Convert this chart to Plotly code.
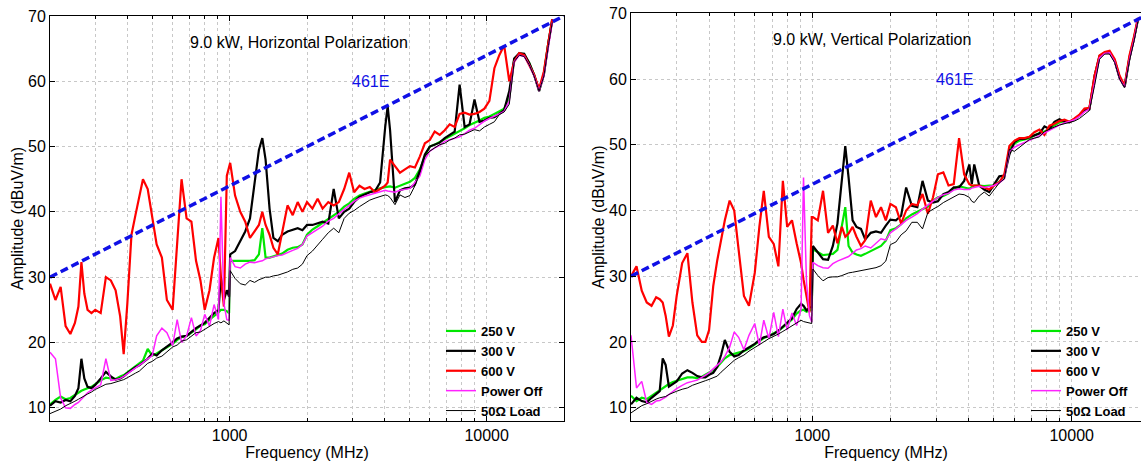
import math
import plotly.graph_objects as go

# Sweep frequencies (MHz): 200 MHz - 1 GHz band, then 1 - 18 GHz band
FREQ_MHZ = [
    200, 210, 220, 230, 240, 250, 258, 265, 272, 280,
    290, 300, 315, 330, 345, 360, 375, 387, 400, 415,
    430, 445, 460, 480, 500, 520, 545, 570, 600, 625,
    650, 680, 710, 740, 770, 800, 835, 870, 905, 925,
    950, 975, 995,
    1005, 1050, 1100, 1150, 1200, 1250, 1300, 1340, 1380, 1430,
    1480, 1540, 1600, 1680, 1760, 1840, 1920, 2000, 2100, 2200,
    2300, 2420, 2540, 2660, 2790, 2920, 3050, 3200, 3350, 3510,
    3680, 3850, 4030, 4120, 4210, 4400, 4600, 4810, 5030, 5260,
    5500, 5750, 6010, 6280, 6570, 6870, 7180, 7510, 7850, 8210,
    8580, 8970, 9380, 9800, 10250, 10720, 11200, 11700, 12250, 12800,
    13400, 14000, 14650, 15300, 16000, 16700, 17400, 18000,
]

# Horizontal polarization (dBuV/m)
H_250V = [
    10.5, 11.2, 11.7, 11.3, 11.5, 12.0, 12.3, 12.6, 12.8, 13.0,
    13.2, 13.6, 14.2, 14.6, 14.5, 14.4, 14.8, 15.0, 15.4, 15.9,
    16.4, 16.8, 17.2, 19.0, 18.0, 18.3, 18.8, 19.2, 19.8, 20.4,
    20.8, 21.0, 21.5, 22.0, 22.6, 22.8, 23.5, 24.0, 24.6, 25.0,
    25.0, 24.8, 24.5,
    32.5, 32.5, 32.4, 32.4, 32.5, 32.6, 33.5, 37.5, 33.0, 33.0,
    33.2, 33.4, 33.6, 34.2, 34.5, 34.6, 35.0, 36.5, 37.3, 37.8,
    38.3, 39.0, 39.5, 40.0, 40.8, 41.3, 42.0, 42.5, 42.8, 43.1,
    43.4, 43.6, 43.8, 43.9, 43.9, 43.7, 44.0, 44.3, 44.6, 45.2,
    46.5, 48.5, 50.0, 50.3, 50.7, 51.2, 51.6, 52.0, 52.4, 52.8,
    53.3, 53.6, 54.0, 54.4, 54.6, 55.0, 55.4, 55.8, 57.5, 63.3,
    64.2, 64.0, 62.8, 61.0, 58.6, 61.2, 66.0, 69.3,
]
H_300V = [
    10.3, 11.0, 10.8, 11.2, 11.0, 11.8, 13.0, 17.5, 14.5, 13.2,
    13.0, 13.5, 14.5, 15.5, 14.8, 14.3, 14.5, 14.8, 15.3, 15.8,
    16.2, 16.5, 17.0, 17.5, 18.3, 18.0, 18.8, 19.3, 20.0, 20.6,
    20.9, 21.0, 21.6, 22.2, 22.6, 23.0, 23.8, 24.5, 25.0, 30.0,
    26.5, 28.0, 27.0,
    33.5, 34.0, 35.5, 37.0, 39.0, 44.0, 49.5, 51.3, 48.0, 40.5,
    36.0, 35.5, 36.5, 37.0, 37.2, 37.5, 37.2, 38.0, 38.0, 38.3,
    38.5, 38.2, 43.5, 39.0, 40.0, 40.5, 41.5, 42.3, 42.7, 43.0,
    43.2, 44.5, 53.0, 56.2, 52.5, 41.5, 43.3, 43.6, 43.7, 44.2,
    46.3, 48.8, 50.0, 50.3, 50.6, 51.3, 51.8, 52.3, 59.5, 53.0,
    53.4, 57.2, 53.8, 54.0, 54.4, 54.5, 55.0, 55.6, 58.5, 63.5,
    64.3, 64.2, 62.8, 61.0, 58.5, 61.0, 66.0, 69.5,
]
H_600V = [
    29.0, 26.5, 28.5, 22.5, 21.3, 23.0, 25.5, 32.3, 27.5, 25.0,
    24.5, 25.0, 24.5, 30.0, 29.5, 28.0, 24.0, 18.2, 26.0, 36.5,
    39.5, 42.5, 45.0, 43.5, 39.5, 35.0, 33.0, 26.5, 25.0, 35.0,
    45.0, 39.0, 38.5, 32.5, 29.5, 25.0, 28.0, 33.0, 36.0, 30.0,
    25.5, 45.5, 47.0,
    47.5, 42.5, 40.0, 38.5, 36.0, 37.0, 38.0, 40.0, 38.0, 36.5,
    34.5, 33.5, 37.0, 41.0, 39.5, 41.5, 40.0, 41.5, 40.5, 42.0,
    40.5, 41.5, 41.0, 41.5, 43.5, 46.0, 43.0, 44.0, 43.5, 43.8,
    43.0, 43.5, 44.0, 44.5, 48.0, 47.0, 46.0, 46.5, 47.0, 46.8,
    48.5, 50.5, 51.0, 52.3, 51.8, 52.5, 53.4, 53.0, 55.0, 55.2,
    54.9, 55.0, 55.3, 55.8, 57.0, 62.0, 64.0, 65.5, 60.0, 63.0,
    64.3, 64.0, 62.5, 61.0, 58.8, 61.5, 66.0, 69.5,
]
H_POWER_OFF = [
    18.5, 17.5, 11.5, 10.0, 9.9, 10.5, 10.8, 11.3, 11.8, 12.3,
    12.7, 13.0, 13.5, 17.5, 14.2, 14.3, 14.5, 14.8, 15.2, 15.6,
    16.0, 16.4, 16.9, 17.5, 18.0, 21.0, 22.2, 21.5, 19.5, 23.5,
    20.0, 21.0, 23.8, 21.0, 21.8, 24.3, 22.5, 25.8, 23.5, 42.3,
    26.0, 23.5, 23.4,
    33.0, 31.6, 31.4, 32.0, 32.3, 32.2, 32.4, 32.5, 32.8, 33.0,
    33.1, 33.3, 33.4, 33.8, 34.1, 34.4, 35.0, 36.3, 36.8, 37.3,
    37.8, 38.6, 39.0, 39.7, 40.3, 41.0, 41.6, 42.1, 42.4, 42.6,
    42.8, 43.1, 43.3, 43.2, 43.1, 43.0, 43.3, 43.5, 43.6, 44.5,
    45.5, 48.0, 49.3, 49.8, 50.2, 50.8, 51.0, 51.2, 51.5, 52.0,
    52.5, 52.8, 53.4, 53.9, 54.3, 54.6, 55.0, 55.4, 57.0, 63.0,
    64.0, 63.8, 62.5, 60.8, 58.5, 60.8, 65.5, 69.0,
]
H_50_LOAD = [
    9.1, 9.4, 9.8, 10.3, 10.6, 11.0, 11.3, 11.6, 11.8, 12.1,
    12.4, 12.8, 13.2, 13.6, 13.7, 13.9, 14.1, 14.3, 14.6, 15.0,
    15.3, 15.6, 16.1, 16.8, 17.1, 17.6, 17.9, 18.5, 19.3, 19.6,
    20.2, 20.4, 20.9, 21.5, 21.6, 22.0, 22.5, 22.9, 23.2, 23.0,
    23.3, 23.0, 22.7,
    31.0, 29.8, 29.0, 28.8, 29.5, 29.2, 29.6, 29.8, 30.0, 30.0,
    30.2, 30.3, 30.5, 30.8, 31.2, 31.4, 32.0, 33.3, 34.0, 35.0,
    35.8, 36.8, 37.5, 36.8, 39.0, 39.8, 40.2, 40.8, 41.3, 41.8,
    42.1, 42.3, 42.6, 42.5, 42.2, 41.1, 42.6, 42.2, 42.5, 44.0,
    46.0, 48.5, 49.3, 49.8, 50.3, 50.5, 51.0, 51.3, 51.8, 51.9,
    52.2, 52.6, 52.4, 53.0, 53.4, 53.8, 54.9, 55.3, 56.5, 63.0,
    64.0, 63.8, 62.5, 60.8, 58.5, 60.8, 65.5, 69.0,
]

# Vertical polarization (dBuV/m)
V_250V = [
    11.8, 11.0, 11.5, 11.3, 11.8, 12.3, 12.6, 13.0, 13.3, 13.6,
    13.9, 14.1, 14.4, 14.6, 14.6, 14.5, 14.7, 15.0, 15.4, 15.7,
    16.2, 16.8, 17.5, 18.0, 18.2, 18.3, 18.6, 19.0, 19.6, 20.2,
    20.6, 20.9, 21.3, 21.7, 22.2, 22.8, 23.4, 24.3, 24.8, 24.9,
    24.6, 24.8, 24.9,
    34.1, 33.6, 33.2, 33.3, 33.4, 34.0, 37.5, 40.5, 34.6, 33.6,
    33.3, 33.1, 33.4, 33.8, 34.2, 34.6, 35.4, 37.0, 37.3, 37.9,
    38.8, 39.4, 39.8, 40.2, 40.6, 41.5, 42.0, 42.2, 42.6, 43.3,
    43.7, 43.5, 43.3, 43.6, 43.8, 43.8, 43.7, 43.8, 43.8, 44.4,
    45.0, 49.3, 50.2, 50.6, 50.8, 51.0, 51.4, 51.8, 52.0, 52.5,
    53.0, 53.4, 53.6, 53.5, 53.9, 54.4, 55.2, 55.5, 60.0, 63.4,
    64.0, 64.1, 62.8, 60.2, 58.9, 63.3, 66.3, 69.1,
]
V_300V = [
    10.5, 11.5, 11.0, 10.8, 11.5, 12.0, 12.5, 17.5, 16.5, 13.2,
    13.6, 14.0, 15.2, 15.7, 15.3, 14.8, 14.6, 14.6, 15.0, 15.3,
    16.2, 18.0, 20.3, 18.5, 17.8, 18.0, 18.7, 19.2, 19.7, 20.3,
    20.7, 20.9, 21.2, 21.7, 22.3, 23.0, 23.6, 25.0, 25.8, 25.5,
    24.8, 25.2, 25.3,
    34.6, 33.6, 32.6, 32.5, 34.6, 38.0, 44.5, 49.8, 45.0, 38.5,
    37.5, 37.2, 35.6, 36.6, 36.8, 36.6, 37.7, 38.6, 38.5, 39.2,
    43.5, 40.7, 40.5, 44.5, 41.5, 41.2, 41.4, 42.5, 42.8, 43.5,
    43.5, 44.5, 47.0, 44.0, 47.0, 43.8, 43.2, 42.8, 44.0, 45.2,
    45.3, 48.5, 50.4, 50.9, 50.9, 51.2, 51.4, 51.7, 52.8, 52.4,
    53.5, 53.9, 53.5, 53.4, 53.9, 54.5, 55.3, 55.4, 60.5, 63.5,
    64.0, 64.0, 62.8, 60.2, 58.8, 63.2, 66.2, 69.0,
]
V_600V = [
    30.0, 31.5, 27.8, 26.0, 25.5, 26.8, 26.5, 26.0, 24.0, 20.8,
    22.5, 27.0, 32.0, 33.5, 26.0, 21.0, 20.0, 20.0, 21.8, 28.5,
    32.4, 35.5, 38.5, 41.5, 40.0, 34.0, 27.0, 25.5, 30.5, 37.5,
    43.0, 36.0, 34.9, 31.5, 44.5, 37.5, 38.5, 35.0, 32.0, 29.5,
    27.0, 24.5, 39.0,
    39.0, 38.5, 43.0, 36.6, 37.7, 35.0, 37.5, 36.0, 36.5, 37.5,
    36.0, 34.6, 35.5, 41.5, 39.0, 40.5, 38.5, 41.0, 40.5, 38.0,
    40.0, 41.0, 40.8, 42.5, 39.5, 42.0, 45.5, 45.8, 43.8, 44.0,
    51.0, 45.5, 44.0, 43.8, 43.8, 43.8, 43.5, 43.2, 43.8, 44.3,
    45.5, 49.8, 50.6, 51.0, 51.0, 51.2, 51.9, 52.3, 51.5, 52.9,
    53.2, 53.6, 53.8, 53.5, 54.0, 54.6, 55.5, 55.6, 60.5, 63.6,
    64.1, 64.3, 63.0, 60.5, 59.0, 63.6, 66.5, 69.3,
]
V_POWER_OFF = [
    21.0, 13.0, 14.0, 10.8, 10.5, 11.0, 11.1, 11.3, 11.6, 12.0,
    12.5, 12.9, 13.4, 13.8, 14.0, 14.2, 14.6, 14.9, 15.3, 15.9,
    16.5, 17.0, 17.8, 19.2, 21.5, 20.7, 18.8, 21.0, 22.8, 19.5,
    23.3, 20.5, 24.5, 20.8, 25.0, 21.8, 24.4, 22.5, 25.0, 45.0,
    29.0, 24.0, 23.0,
    32.1, 31.6, 31.3, 31.2, 31.9, 32.3, 32.6, 32.8, 33.0, 33.5,
    34.0, 34.2, 34.6, 34.3, 35.0, 35.7, 35.5, 36.6, 37.2, 37.8,
    38.5, 39.0, 39.5, 40.2, 40.8, 41.5, 42.0, 42.4, 42.6, 43.1,
    43.3, 43.2, 43.2, 43.4, 43.5, 43.7, 43.5, 43.6, 43.8, 44.2,
    44.8, 49.0, 49.6, 50.0, 50.3, 50.6, 51.0, 51.4, 51.8, 52.2,
    52.7, 53.0, 53.3, 53.5, 53.8, 54.3, 55.0, 55.4, 59.5, 63.2,
    63.9, 64.0, 62.6, 60.0, 58.8, 63.0, 66.0, 69.0,
]
V_50_LOAD = [
    9.2, 9.8, 10.3, 10.6, 11.0, 11.3, 11.5, 11.6, 11.7, 12.0,
    12.3, 12.5, 12.8, 13.0, 13.4, 13.7, 13.9, 14.1, 14.3, 14.5,
    14.8, 15.4, 15.9, 16.5, 17.2, 17.6, 18.0, 18.6, 19.2, 19.6,
    20.0, 20.5, 20.8, 21.2, 21.6, 22.0, 22.5, 22.9, 23.3, 23.1,
    23.0, 22.9, 22.8,
    31.1, 30.1, 29.3, 29.8, 29.9, 29.9, 30.1, 30.3, 30.5, 30.6,
    30.7, 30.8, 31.0, 31.1, 31.3, 31.6, 32.3, 34.8, 35.2, 36.3,
    36.9, 38.2, 38.2, 37.2, 39.7, 40.2, 40.6, 41.2, 41.6, 42.0,
    42.5, 42.4, 42.0, 41.4, 41.2, 42.2, 42.8, 42.2, 43.2, 44.2,
    44.8, 49.3, 49.0, 49.6, 50.2, 50.8, 51.0, 51.2, 52.0, 52.4,
    52.7, 53.0, 53.2, 53.4, 53.6, 54.0, 54.6, 55.2, 59.0, 63.0,
    63.8, 63.8, 62.5, 60.0, 58.7, 62.8, 65.8, 68.8,
]

# 461E limit line
LIMIT_FREQ_MHZ = [200, 20000]
LIMIT_DBUV = [30, 70]

SERIES_NAMES = ["250 V", "300 V", "600 V", "Power Off", "50\u03a9 Load"]
PANEL_TITLES = ["9.0 kW, Horizontal Polarization", "9.0 kW, Vertical Polarization"]
LIMIT_LABEL = "461E"

X_TICKS = [1000, 10000]
X_TICK_TEXT = ["1000", "10000"]
Y_TICKS = [10, 20, 30, 40, 50, 60, 70]

panels = [
    [H_250V, H_300V, H_600V, H_POWER_OFF, H_50_LOAD],
    [V_250V, V_300V, V_600V, V_POWER_OFF, V_50_LOAD],
]
for panel in panels:
    for series in panel:
        assert len(series) == len(FREQ_MHZ)

COLORS = ["#00e600", "#000000", "#ff0000", "#ff22ff", "#000000"]
WIDTHS = [2.2, 2.2, 2.2, 1.5, 1.0]
LIMIT_COLOR = "#1010e6"
GRID = "#c8c8c8"
FONT = "Liberation Sans, Arial, sans-serif"

fig = go.Figure()

for p, panel in enumerate(panels):
    suffix = "" if p == 0 else "2"
    for name, values, color, width in zip(SERIES_NAMES, panel, COLORS, WIDTHS):
        fig.add_trace(go.Scatter(
            x=FREQ_MHZ, y=values, mode="lines", name=name,
            line=dict(color=color, width=width),
            xaxis="x" + suffix, yaxis="y" + suffix,
            legend="legend" + suffix,
        ))
    fig.add_trace(go.Scatter(
        x=LIMIT_FREQ_MHZ, y=LIMIT_DBUV, mode="lines", name=LIMIT_LABEL,
        line=dict(color=LIMIT_COLOR, width=3.5, dash="8px,4px"),
        xaxis="x" + suffix, yaxis="y" + suffix, showlegend=False,
    ))

minor_x = [m * d for d in (100, 1000) for m in range(2, 10)] + [20000]


def x_axis(domain, upper, anchor):
    return dict(
        type="log", range=[math.log10(200), math.log10(upper)], domain=domain,
        anchor=anchor, tickvals=X_TICKS, ticktext=X_TICK_TEXT,
        ticks="inside", ticklen=5, tickcolor="black",
        showline=True, linecolor="black", linewidth=1, mirror="ticks",
        showgrid=True, gridcolor=GRID, griddash="dot", gridwidth=1,
        minor=dict(tickvals=minor_x, ticks="inside", ticklen=3, tickcolor="black",
                   showgrid=True, gridcolor=GRID, griddash="dot", gridwidth=1),
        zeroline=False, automargin=False,
        tickfont=dict(size=16, color="black"),
        title=dict(text="Frequency (MHz)", font=dict(size=16, color="black"), standoff=2),
    )


def y_axis(domain, anchor, mirror):
    return dict(
        range=[8, 70], domain=domain, anchor=anchor, tickvals=Y_TICKS,
        ticks="inside", ticklen=5, tickcolor="black",
        showline=True, linecolor="black", linewidth=1, mirror=mirror,
        showgrid=True, gridcolor=GRID, griddash="dot", gridwidth=1,
        zeroline=False, automargin=False,
        tickfont=dict(size=16, color="black"),
        title=dict(text="Amplitude (dBuV/m)", font=dict(size=16, color="black"), standoff=0),
    )


W, H = 1141, 463
legend_font = dict(family=FONT, size=13, weight="bold", color="black")
fig.update_layout(
    width=W, height=H,
    margin=dict(l=0, r=0, t=0, b=0),
    paper_bgcolor="white", plot_bgcolor="white",
    font=dict(family=FONT, size=16, color="black"),
    xaxis=x_axis([50 / W, 564 / W], 20000, "y"),
    yaxis=y_axis([1 - 420.8 / H, 1 - 16 / H], "x", "ticks"),
    xaxis2=x_axis([631 / W, 1.0], 18500, "y2"),
    yaxis2=y_axis([1 - 420.8 / H, 1 - 13.3 / H], "x2", False),
    legend=dict(x=441 / W, y=1 - 316 / H, xanchor="left", yanchor="top",
                bgcolor="rgba(0,0,0,0)", borderwidth=0, traceorder="normal",
                font=legend_font),
    legend2=dict(x=1026 / W, y=1 - 316 / H, xanchor="left", yanchor="top",
                 bgcolor="rgba(0,0,0,0)", borderwidth=0, traceorder="normal",
                 font=legend_font),
    showlegend=True,
)

# Panel titles and limit labels
label_positions = [
    (PANEL_TITLES[0], 299, 43, "black"),
    (PANEL_TITLES[1], 872, 40, "black"),
    (LIMIT_LABEL, 370, 82, LIMIT_COLOR),
    (LIMIT_LABEL, 954, 79, LIMIT_COLOR),
]
for text, px, py, color in label_positions:
    fig.add_annotation(x=px / W, y=1 - py / H, xref="paper", yref="paper",
                       xanchor="center", yanchor="middle", text=text, showarrow=False,
                       font=dict(size=16, color=color))

fig.write_html("out.html")
